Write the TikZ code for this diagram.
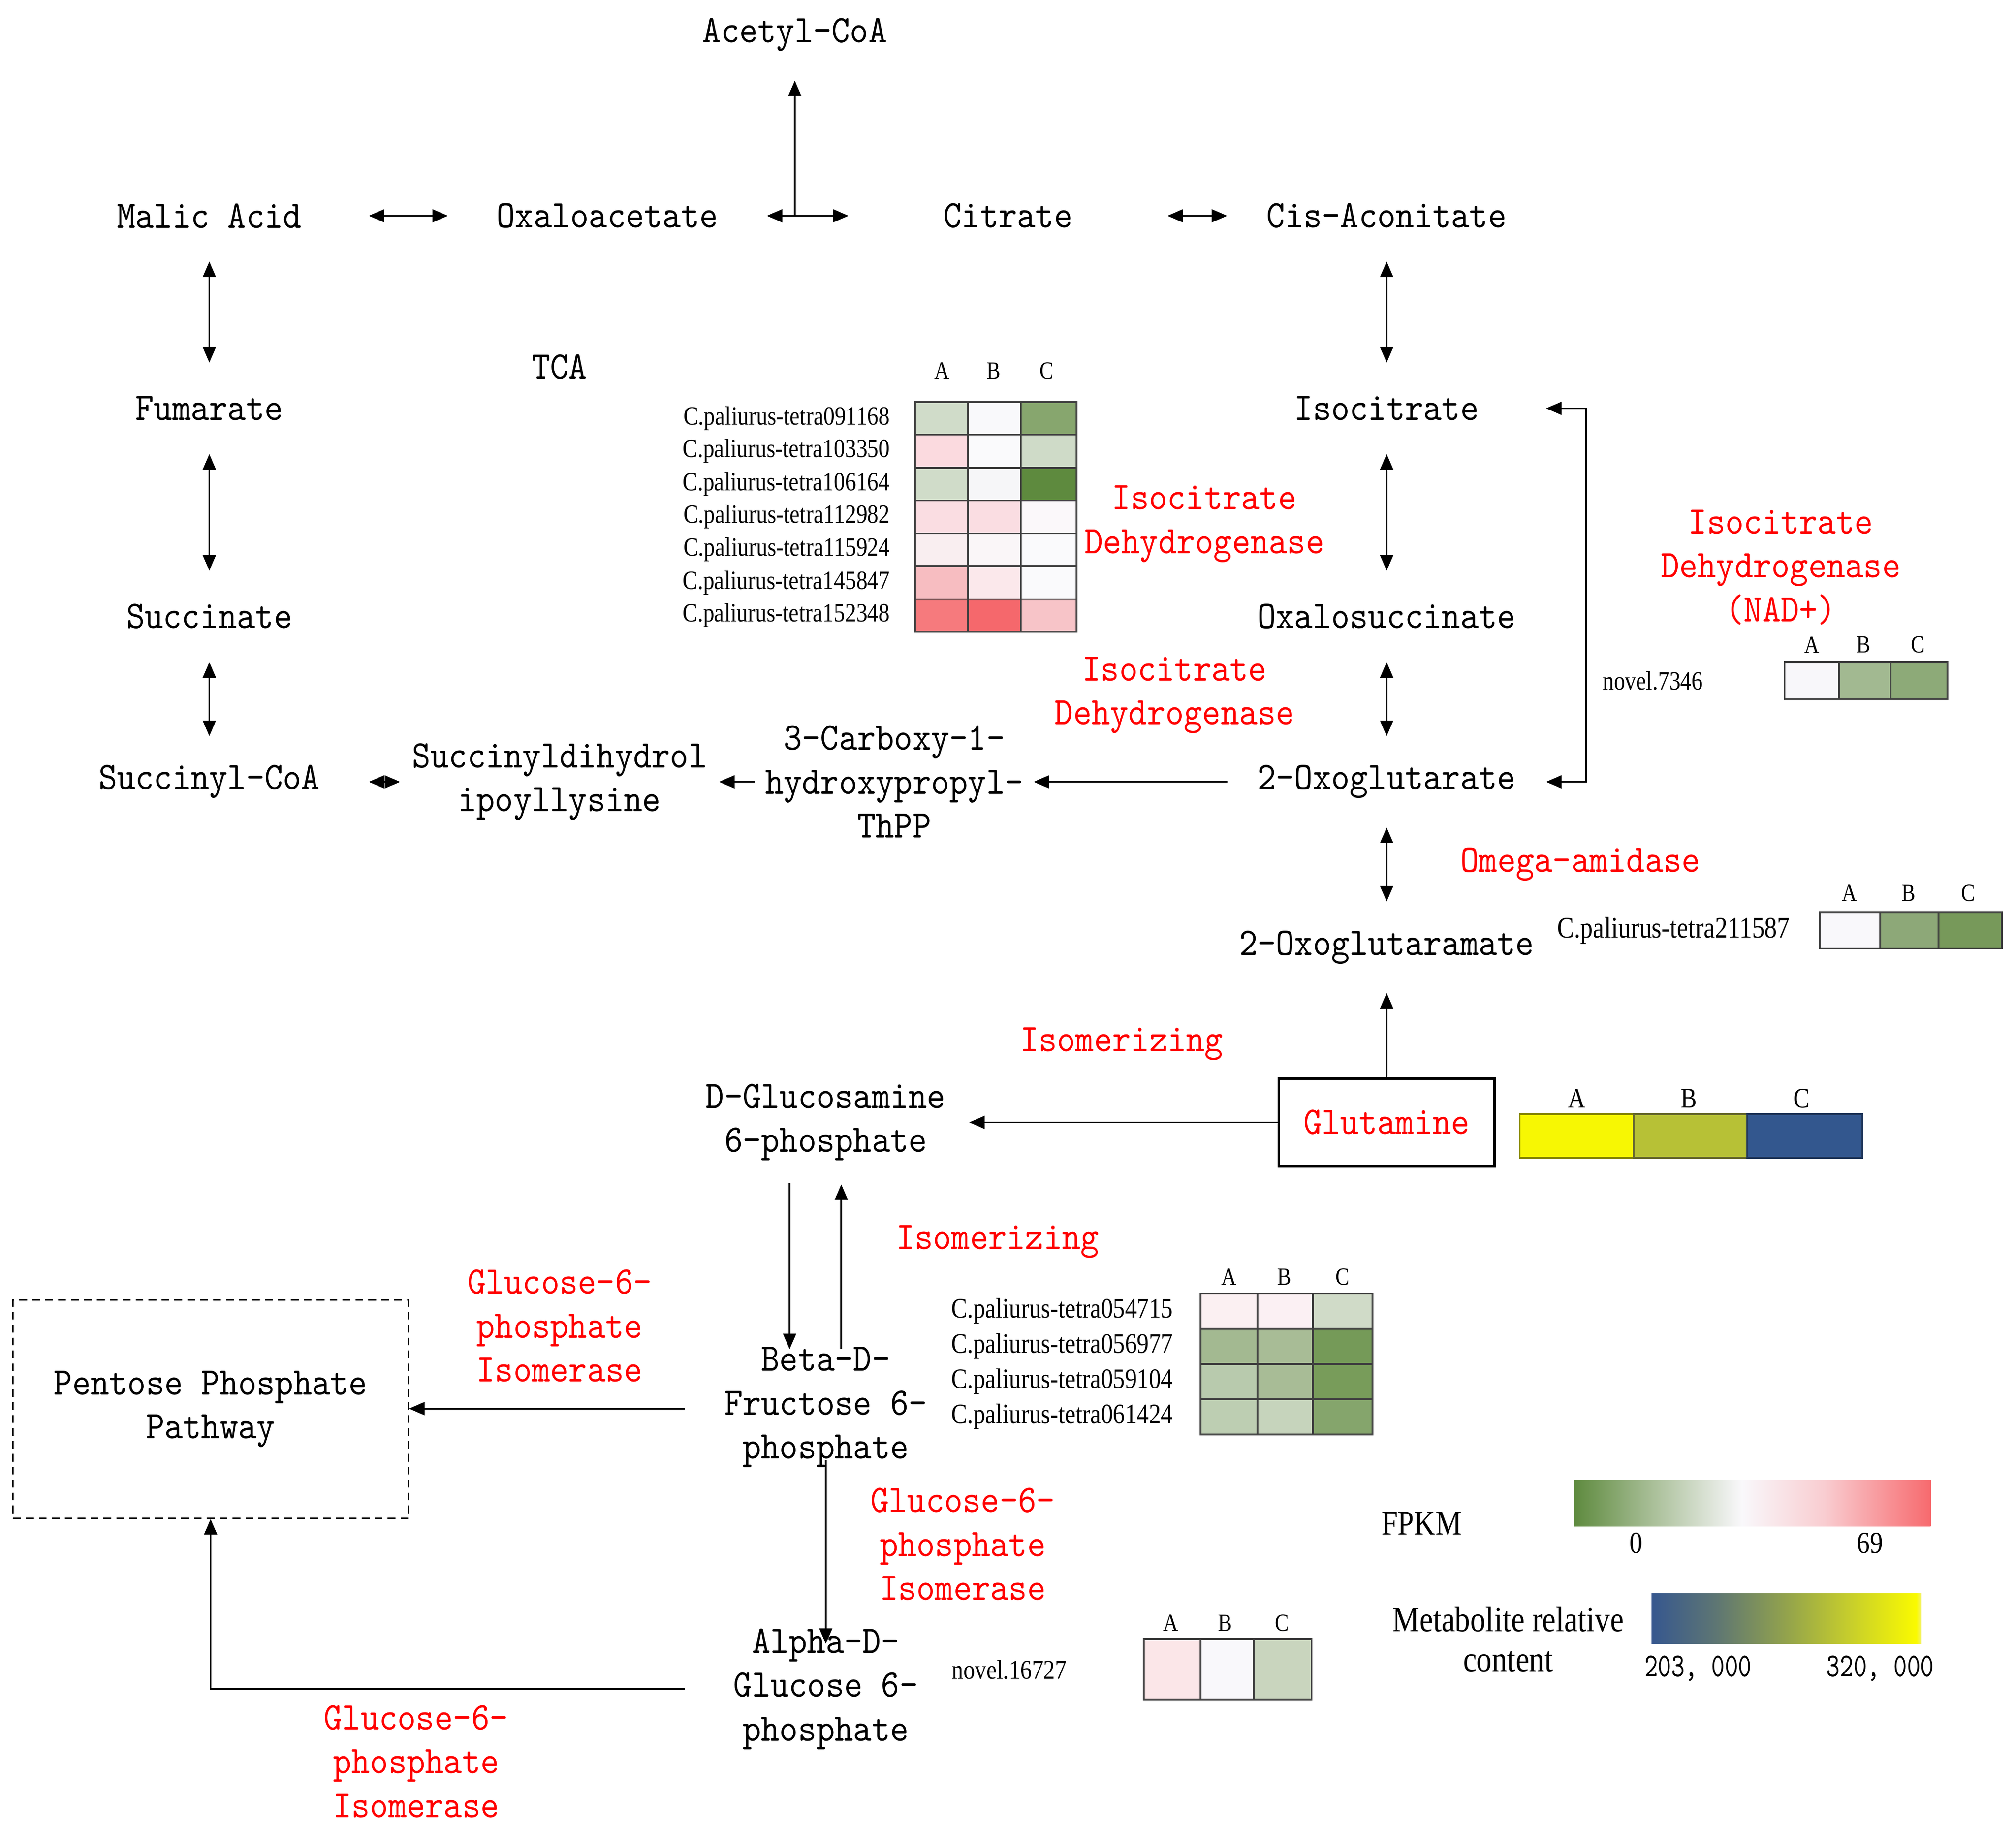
\documentclass[tikz,border=0pt]{standalone}
\usepackage{fontspec}
\setmainfont{Liberation Serif}
\newfontfamily\cnf[Extension=.otf, FakeStretch=0.9]{lmmono10-regular}
\newfontfamily\cnfn[Extension=.otf, FakeStretch=0.76]{lmmono10-regular}
\newfontfamily\tnr[FakeStretch=0.85]{Liberation Serif}
\usetikzlibrary{arrows.meta,calc}
\definecolor{fg0}{HTML}{5E8A3E}
\definecolor{fg1}{HTML}{A9BF98}
\definecolor{fw}{HTML}{F9F8FB}
\definecolor{fr1}{HTML}{F9CDD1}
\definecolor{fr2}{HTML}{F76A6E}
\definecolor{mb0}{HTML}{36578F}
\definecolor{mb1}{HTML}{5E7673}
\definecolor{mb2}{HTML}{93A34C}
\definecolor{mb3}{HTML}{C8CF2B}
\definecolor{mb4}{HTML}{FAFA00}
\definecolor{mb5}{HTML}{F2F07A}
\definecolor{enzred}{HTML}{FF0000}
\definecolor{glnA}{HTML}{F7F703}
\definecolor{glnAd}{HTML}{8C8C00}
\definecolor{glnB}{HTML}{B7C136}
\definecolor{glnBd}{HTML}{6B6D30}
\definecolor{glnC}{HTML}{33578E}
\definecolor{glnCd}{HTML}{22385C}
\pgfdeclarehorizontalshading{fpkmshade}{100bp}{color(0bp)=(fg0); color(25bp)=(fg0); color(36bp)=(fg1); color(48.5bp)=(fw); color(60bp)=(fr1); color(75bp)=(fr2); color(100bp)=(fr2)}
\pgfdeclarehorizontalshading{metshade}{100bp}{color(0bp)=(mb0); color(25bp)=(mb0); color(37bp)=(mb1); color(50bp)=(mb2); color(62bp)=(mb3); color(74bp)=(mb4); color(75bp)=(mb5); color(100bp)=(mb5)}
\newcommand\hcell[5]{\definecolor{tmpcell}{HTML}{#5}\filldraw[cell, fill=tmpcell] (#1,#2) rectangle (#3,#4);}
\begin{document}
\begin{tikzpicture}[x=0.5pt,y=-0.5pt,
  bigfont/.style={font=\cnf\fontsize{15.1}{17}\selectfont},
  met/.style={bigfont, align=center, inner sep=0pt, minimum width=123pt, minimum height=35pt},
  met2/.style={bigfont, align=center, inner sep=0pt},
  enz/.style={bigfont, text=enzred, align=center, inner sep=0pt},
  gene/.style={font=\tnr\fontsize{10.2}{12}\selectfont, inner sep=0pt},
  col/.style={font=\tnr\fontsize{9.5}{11}\selectfont, inner sep=0pt},
  rx/.style={-{Triangle[length=6pt,width=5pt]}, line width=0.65pt},
  rxx/.style={{Triangle[length=6pt,width=5pt]}-{Triangle[length=6pt,width=5pt]}, line width=0.65pt},
  cell/.style={draw=black!75, line width=0.7pt}]
\fill[white] (0,0) rectangle (1560,1416);
\useasboundingbox (0,0) rectangle (1560,1416);

% ---------------- metabolites (TCA) ----------------
\node[met] (acetyl) at (615,27) {Acetyl-CoA};
\node[met] (malic) at (162,167) {Malic Acid};
\node[met] (oxalo) at (470,167) {Oxaloacetate};
\node[met] (citrate) at (780,167) {Citrate};
\node[met] (cis) at (1073,167) {Cis-Aconitate};
\node[met] (fum) at (162,316) {Fumarate};
\node[met2] (tca) at (433,284) {TCA};
\node[met] (iso) at (1073,316) {Isocitrate};
\node[met] (succ) at (162,477) {Succinate};
\node[met] (oxs) at (1073,477) {Oxalosuccinate};
\node[met] (scoa) at (162,605) {Succinyl-CoA};
\node[met] (sdl) at (433,605) {Succinyldihydrol\\ipoyllysine};
\node[met, minimum width=107.5pt] (cbx) at (692,605) {3-Carboxy-1-\\hydroxypropyl-\\ThPP};
\node[met] (oxg) at (1073,605) {2-Oxoglutarate};
\node[met] (oxgm) at (1073,733) {2-Oxoglutaramate};

\coordinate (acj) at (615,167);
\draw[rxx] (malic) -- (oxalo);
\draw[rxx] (oxalo) -- (citrate);
\draw[rx] (acj) -- (acetyl.south);
\draw[rxx] (citrate) -- (cis);
\draw[rxx] (cis) -- (iso);
\draw[rxx] (iso) -- (oxs);
\draw[rxx] (oxs) -- (oxg);
\draw[rxx] (oxg) -- (oxgm);
\draw[rxx] (malic) -- (fum);
\draw[rxx] (fum) -- (succ);
\draw[rxx] (succ) -- (scoa);
\draw[rxx] (scoa) -- (sdl);
\draw[rx] (cbx) -- (sdl);
\draw[rx] (oxg) -- (cbx);
\draw[rxx] (iso.east) -- ($(iso.east)+(31,0)$) |- (oxg.east);

% ---------------- lower part ----------------
\node[draw, line width=1pt, minimum width=83.5pt, minimum height=34pt, inner sep=0pt, bigfont, text=enzred] (gln) at (1073,868.5) {Glutamine};
\node[met2] (dgl) at (639,868.5) {D-Glucosamine\\6-phosphate};
\node[met2] (betad) at (639,1089) {Beta-D-\\Fructose 6-\\phosphate};
\node[met2] (alphad) at (639,1307) {Alpha-D-\\Glucose 6-\\phosphate};
\node[draw, dashed, dash pattern=on 3pt off 2pt, line width=0.5pt, minimum width=153pt, minimum height=84.5pt, align=center, inner sep=0pt, bigfont] (pentose) at (163,1090.5) {Pentose Phosphate\\Pathway};

\draw[rx] (gln.north) -- (oxgm.south);
\draw[rx] (gln.west) -- ($(dgl.center)+(111,0)$);
\draw[rx] ($(dgl.center)+(-28,47)$) -- ($(betad.center)+(-28,-45)$);
\draw[rx] ($(betad.center)+(12,-45)$) -- ($(dgl.center)+(12,48)$);
\coordinate (bw) at ($(betad.center)+(-109,1)$);
\draw[rx] (bw) -- (bw -| pentose.east);
\draw[rx] ($(betad.center)+(0,41)$) -- ($(alphad.center)+(0,-35)$);
\draw[rx] ($(alphad.center)+(-109,0)$) -| (pentose.south);

% ---------------- enzymes ----------------
\node[enz] (e1) at (932,405.5) {Isocitrate\\Dehydrogenase};
\node[enz] (e2) at (1378,439) {Isocitrate\\Dehydrogenase\\(NAD+)};
\node[enz] (e3) at (909,538) {Isocitrate\\Dehydrogenase};
\node[enz] (e4) at (1223,669) {Omega-amidase};
\node[enz] (e5) at (868,808) {Isomerizing};
\node[enz] (e6) at (772,961) {Isomerizing};
\node[enz] (e7) at (433,1026) {Glucose-6-\\phosphate\\Isomerase};
\node[enz] (e8) at (745,1195) {Glucose-6-\\phosphate\\Isomerase};
\node[enz] (e9) at (322,1363) {Glucose-6-\\phosphate\\Isomerase};

% ---------------- heatmap 1 ----------------
\node[col] (h1a) at (729,287) {A};
\node[col] (h1b) at (769,287) {B};
\node[col] (h1c) at (810,287) {C};
\hcell{708}{311}{749}{336.4}{D0DCC9}\hcell{749}{311}{790}{336.4}{F9F9FB}\hcell{790}{311}{833}{336.4}{87A66E}
\hcell{708}{336.4}{749}{361.9}{FBDADF}\hcell{749}{336.4}{790}{361.9}{FAFAFC}\hcell{790}{336.4}{833}{361.9}{CFDBC8}
\hcell{708}{361.9}{749}{387.3}{D0DCC9}\hcell{749}{361.9}{790}{387.3}{F6F6F8}\hcell{790}{361.9}{833}{387.3}{5E8A3E}
\hcell{708}{387.3}{749}{412.7}{FADDE2}\hcell{749}{387.3}{790}{412.7}{FADDE2}\hcell{790}{387.3}{833}{412.7}{FBF8FA}
\hcell{708}{412.7}{749}{438.1}{F9EEF0}\hcell{749}{412.7}{790}{438.1}{FAF6F8}\hcell{790}{412.7}{833}{438.1}{FAFAFC}
\hcell{708}{438.1}{749}{463.6}{F7BDC1}\hcell{749}{438.1}{790}{463.6}{FBE8EB}\hcell{790}{438.1}{833}{463.6}{FAFAFC}
\hcell{708}{463.6}{749}{489}{F67A7D}\hcell{749}{463.6}{790}{489}{F5686C}\hcell{790}{463.6}{833}{489}{F7C4C8}
\node[gene, anchor=east] (g1) at (689,323.7) {C.paliurus-tetra091168};
\node[gene, anchor=east] (g2) at (689,349.1) {C.paliurus-tetra103350};
\node[gene, anchor=east] (g3) at (689,374.6) {C.paliurus-tetra106164};
\node[gene, anchor=east] (g4) at (689,400) {C.paliurus-tetra112982};
\node[gene, anchor=east] (g5) at (689,425.4) {C.paliurus-tetra115924};
\node[gene, anchor=east] (g6) at (689,450.9) {C.paliurus-tetra145847};
\node[gene, anchor=east] (g7) at (689,476.3) {C.paliurus-tetra152348};

% ---------------- heatmap 2 (novel.7346) ----------------
\node[col] (h2a) at (1402,499) {A};
\node[col] (h2b) at (1442,499) {B};
\node[col] (h2c) at (1484,499) {C};
\hcell{1381}{512}{1423}{541}{F8F7FA}\hcell{1423}{512}{1463}{541}{A2B991}\hcell{1463}{512}{1507}{541}{8DAA78}
\node[gene] (g8) at (1279,527) {novel.7346};

% ---------------- heatmap 3 (211587) ----------------
\node[col] (h3a) at (1431,691) {A};
\node[col] (h3b) at (1477,691) {B};
\node[col] (h3c) at (1523,691) {C};
\hcell{1408}{706}{1455}{734}{F9F8FB}\hcell{1455}{706}{1500}{734}{8DA878}\hcell{1500}{706}{1549}{734}{77995A}
\node[gene, font=\tnr\fontsize{11.5}{13}\selectfont] (g9) at (1295,720) {C.paliurus-tetra211587};

% ---------------- glutamine bar ----------------
\node[col, font=\tnr\fontsize{11}{13}\selectfont] (h4a) at (1220,850) {A};
\node[col, font=\tnr\fontsize{11}{13}\selectfont] (h4b) at (1307,850) {B};
\node[col, font=\tnr\fontsize{11}{13}\selectfont] (h4c) at (1394,850) {C};
\filldraw[line width=0.7pt, draw=glnAd, fill=glnA] (1176,862) rectangle (1264,896);
\filldraw[line width=0.7pt, draw=glnBd, fill=glnB] (1264,862) rectangle (1352,896);
\filldraw[line width=0.7pt, draw=glnCd, fill=glnC] (1352,862) rectangle (1441,896);

% ---------------- heatmap 5 ----------------
\node[col] (h5a) at (951,988) {A};
\node[col] (h5b) at (994,988) {B};
\node[col] (h5c) at (1039,988) {C};
\hcell{929}{1001}{973}{1028.25}{FBF0F2}\hcell{973}{1001}{1016}{1028.25}{FBF0F3}\hcell{1016}{1001}{1062}{1028.25}{D0DBC8}
\hcell{929}{1028.25}{973}{1055.5}{A3B991}\hcell{973}{1028.25}{1016}{1055.5}{A8BC96}\hcell{1016}{1028.25}{1062}{1055.5}{759A58}
\hcell{929}{1055.5}{973}{1082.75}{B8CAAD}\hcell{973}{1055.5}{1016}{1082.75}{A8BC96}\hcell{1016}{1055.5}{1062}{1082.75}{789C5A}
\hcell{929}{1082.75}{973}{1110}{BDCEB2}\hcell{973}{1082.75}{1016}{1110}{C6D4BC}\hcell{1016}{1082.75}{1062}{1110}{85A56C}
\node[gene, anchor=east, font=\tnr\fontsize{10.9}{13}\selectfont] (g10) at (908,1014.6) {C.paliurus-tetra054715};
\node[gene, anchor=east, font=\tnr\fontsize{10.9}{13}\selectfont] (g11) at (908,1041.9) {C.paliurus-tetra056977};
\node[gene, anchor=east, font=\tnr\fontsize{10.9}{13}\selectfont] (g12) at (908,1069.1) {C.paliurus-tetra059104};
\node[gene, anchor=east, font=\tnr\fontsize{10.9}{13}\selectfont] (g13) at (908,1096.4) {C.paliurus-tetra061424};

% ---------------- heatmap 6 (novel.16727) ----------------
\node[col] (h6a) at (906,1256) {A};
\node[col] (h6b) at (948,1256) {B};
\node[col] (h6c) at (992,1256) {C};
\hcell{885}{1268}{929}{1315}{FBE6E8}\hcell{929}{1268}{970}{1315}{F9F8FB}\hcell{970}{1268}{1015}{1315}{C9D5BE}
\node[gene, font=\tnr\fontsize{10.5}{12}\selectfont] (g14) at (781,1292) {novel.16727};

% ---------------- legends ----------------
\node[inner sep=0pt, font=\tnr\fontsize{13.4}{15}\selectfont] (fpkm) at (1100,1179) {FPKM};
\shade[shading=fpkmshade] (1218,1145) rectangle (1494,1181);
\node[inner sep=0pt, font=\tnr\fontsize{11.8}{14}\selectfont] (f0) at (1266,1194) {0};
\node[inner sep=0pt, font=\tnr\fontsize{11.8}{14}\selectfont] (f69) at (1447,1194) {69};
\node[inner sep=0pt, align=center, font=\tnr\fontsize{13.9}{15.5}\selectfont] (metleg) at (1167,1268.5) {Metabolite relative\\content};
\shade[shading=metshade] (1278,1233) rectangle (1487,1272);
\node[inner sep=0pt, font=\cnfn\fontsize{13}{14}\selectfont] (m0) at (1314,1291) {203, 000};
\node[inner sep=0pt, font=\cnfn\fontsize{13}{14}\selectfont] (m1) at (1455,1291) {320, 000};
\end{tikzpicture}
\end{document}
